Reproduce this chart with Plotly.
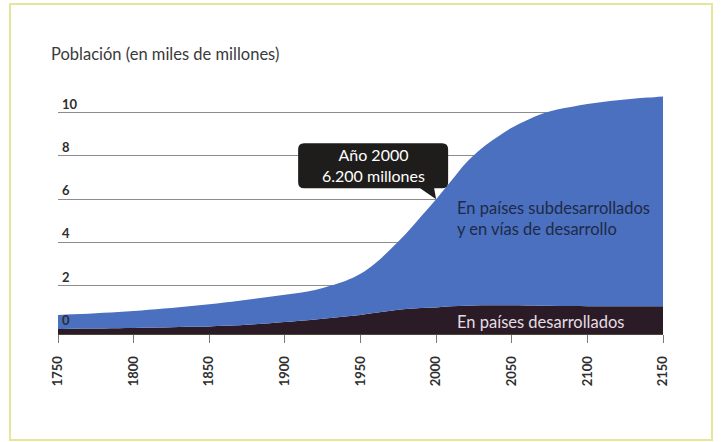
import plotly.graph_objects as go

# ---------------- data ----------------
YEARS = list(range(1750, 2151, 10))
# total world population (top of the blue area), miles de millones
TOTAL = [0.65, 0.68, 0.71, 0.75, 0.79, 0.83, 0.89, 0.95, 1.01, 1.08,
         1.15, 1.23, 1.31, 1.40, 1.49, 1.58, 1.68, 1.80, 2.00, 2.22,
         2.55, 3.05, 3.70, 4.40, 5.20, 6.00, 6.85, 7.70, 8.35, 8.85,
         9.30, 9.65, 9.95, 10.15, 10.28, 10.40, 10.50, 10.58, 10.65, 10.70,
         10.75]
# developed countries (dark area)
DEVELOPED = [0.00, 0.01, 0.02, 0.03, 0.04, 0.05, 0.06, 0.07, 0.09, 0.10,
             0.12, 0.15, 0.18, 0.22, 0.27, 0.32, 0.38, 0.44, 0.51, 0.58,
             0.65, 0.75, 0.85, 0.92, 0.97, 1.00, 1.05, 1.08, 1.10, 1.10,
             1.10, 1.09, 1.08, 1.07, 1.06, 1.05, 1.05, 1.05, 1.05, 1.05,
             1.05]
X_TICKS = [1750, 1800, 1850, 1900, 1950, 2000, 2050, 2100, 2150]
Y_TICKS = [0, 2, 4, 6, 8, 10, 12]
Y_LABELS = ["0", "2", "4", "6", "8", "10"]
TITLE = "Población (en miles de millones)"
CALLOUT_YEAR = 2000
CALLOUT_TEXT = "Año 2000<br>6.200 millones"
LABEL_DEVELOPING = "En países subdesarrollados<br>y en vías de desarrollo"
LABEL_DEVELOPED = "En países desarrollados"

# ---------------- style ----------------
W, H = 721, 442
ML, MR, MT, MB = 58, 58, 69, 108
Y_MIN, Y_MAX = -0.23, 12.02
BLUE = "#4b70bf"
DARK = "#2b1b27"
GRID = "#8c8c8c"
FONT = "Lato"

def px_to_paper_x(px):
    return (px - ML) / (W - ML - MR)

def px_to_paper_y(py):
    return (H - MB - py) / (H - MT - MB)

fig = go.Figure()
# baseline at the bottom of the axis
fig.add_trace(go.Scatter(x=YEARS, y=[Y_MIN] * len(YEARS), mode="lines",
                         line=dict(width=0), hoverinfo="skip", showlegend=False))
fig.add_trace(go.Scatter(x=YEARS, y=DEVELOPED, mode="lines", fill="tonexty",
                         fillcolor=DARK, line=dict(width=0, color=DARK, shape="spline", smoothing=1),
                         showlegend=False, name="Desarrollados"))
fig.add_trace(go.Scatter(x=YEARS, y=TOTAL, mode="lines", fill="tonexty",
                         fillcolor=BLUE, line=dict(width=0, color=BLUE, shape="spline", smoothing=1),
                         showlegend=False, name="Subdesarrollados"))

annotations = []
for v, t in zip(Y_TICKS, Y_LABELS):
    annotations.append(dict(x=X_TICKS[0], y=v, xref="x", yref="y", text=t,
                            showarrow=False, xanchor="left", yanchor="middle",
                            xshift=2, yshift=9,
                            font=dict(family=FONT, size=13, color="#2e2e2e", weight="bold")))

# title
annotations.append(dict(x=px_to_paper_x(49), y=px_to_paper_y(54), xref="paper", yref="paper",
                        text=TITLE, showarrow=False, xanchor="left", yanchor="middle",
                        font=dict(family=FONT, size=16.5, color="#3a3a3a")))

ci = YEARS.index(CALLOUT_YEAR)
cy = TOTAL[ci]
annotations.append(dict(x=CALLOUT_YEAR, y=cy, xref="x", yref="y", text=CALLOUT_TEXT,
                        showarrow=False, xanchor="center", yanchor="middle",
                        xshift=-63, yshift=34, align="center",
                        font=dict(family=FONT, size=16, color="white")))

annotations.append(dict(x=px_to_paper_x(455), y=px_to_paper_y(218), xref="paper", yref="paper",
                        text=LABEL_DEVELOPING, showarrow=False, xanchor="left", yanchor="middle",
                        align="left",
                        font=dict(family=FONT, size=16.5, color="#1d2a48")))
annotations.append(dict(x=px_to_paper_x(455), y=px_to_paper_y(322), xref="paper", yref="paper",
                        text=LABEL_DEVELOPED, showarrow=False, xanchor="left", yanchor="middle",
                        font=dict(family=FONT, size=16.5, color="#e6dde2")))

callout_path = ("M -132,56 L 6,56 Q 12,56 12,50 L 12,17 Q 12,11 6,11 L -2,11 L 0,0 "
                "L -16,11 L -132,11 Q -138,11 -138,17 L -138,50 Q -138,56 -132,56 Z")
shapes = [
    dict(type="path", xref="x", yref="y", xsizemode="pixel", ysizemode="pixel",
         xanchor=CALLOUT_YEAR, yanchor=cy, path=callout_path,
         fillcolor="#1e1d1b", line=dict(width=0), layer="above"),
    dict(type="rect", xref="paper", yref="paper",
         x0=px_to_paper_x(10), x1=px_to_paper_x(712),
         y0=px_to_paper_y(440), y1=px_to_paper_y(4),
         line=dict(color="#e6e69a", width=2), fillcolor="rgba(0,0,0,0)", layer="below"),
]

fig.update_layout(
    width=W, height=H, margin=dict(l=ML, r=MR, t=MT, b=MB, pad=0),
    paper_bgcolor="white", plot_bgcolor="white",
    showlegend=False, annotations=annotations, shapes=shapes,
    xaxis=dict(range=[X_TICKS[0], X_TICKS[-1]], tickvals=X_TICKS, tickangle=-90,
               showgrid=False, zeroline=False, showline=True, linecolor="#4a4638", linewidth=1,
               ticks="outside", ticklen=8, tickcolor="#777777", tickwidth=1,
               ticklabelstandoff=8,
               tickfont=dict(family=FONT, size=13, color="#2e2e2e", weight="bold")),
    yaxis=dict(range=[Y_MIN, Y_MAX], tickvals=Y_TICKS, showticklabels=False,
               showgrid=True, gridcolor=GRID, gridwidth=1, zeroline=False,
               showline=False),
)

fig.write_html("out.html")
